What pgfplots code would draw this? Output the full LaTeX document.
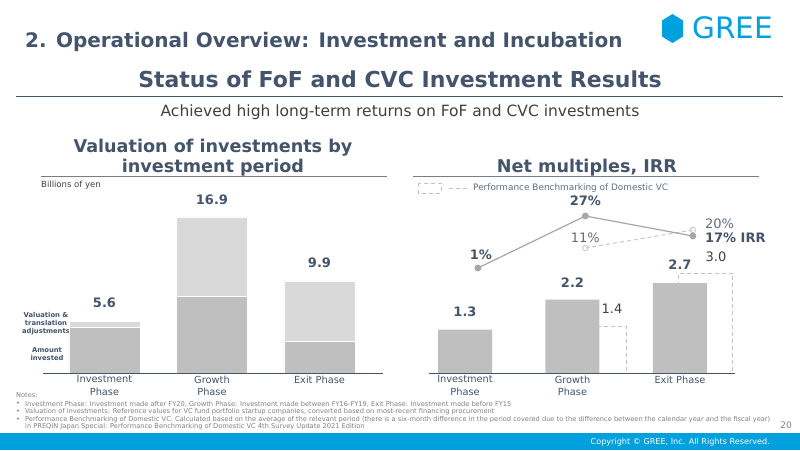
\documentclass[border=0pt]{standalone}
\usepackage{pgfplots}
\pgfplotsset{compat=1.18}
\usepackage{fontspec}
\setmainfont{DejaVu Sans}

\definecolor{slate}{HTML}{44546A}
\definecolor{textgray}{HTML}{404040}
\definecolor{notegray}{HTML}{808080}
\definecolor{bardark}{HTML}{BFBFBF}
\definecolor{barlight}{HTML}{D9D9D9}
\definecolor{irrgray}{HTML}{A6A6A6}
\definecolor{benchgray}{HTML}{C4C4C4}
\definecolor{greeblue}{HTML}{00A0DE}

\newcommand\fs[1]{\fontsize{#1}{#1}\selectfont}

\tikzset{
  vlabel/.style={font=\fs{13}\bfseries, text=slate, inner sep=0},
  blabel/.style={font=\fs{13}, text=textgray, inner sep=0},
}

\begin{document}
\begin{tikzpicture}[x=1pt,y=1pt]
\path[use as bounding box] (0,0) rectangle (800,450);
\fill[white] (0,0) rectangle (800,450);
\fill[greeblue] (0,0) rectangle (800,17);

% ---------- page furniture, in top-down coordinates ----------
\begin{scope}[y=-1pt, yshift=450pt]
  \node[anchor=base west, inner sep=0, text=slate, font=\fs{20}\bfseries]
    at (25,48) {2. Operational Overview: Investment and Incubation};
  % logo
  \fill[greeblue] (672.5,14) -- (683,20.5) -- (683,36.5) -- (672.5,43) -- (662,36.5) -- (662,20.5) -- cycle;
  \node[anchor=base west, inner sep=0, text=greeblue, font=\fs{29.5}]
    at (692,39) {GREE};

  \node[anchor=base, inner sep=0, text=slate, font=\fs{22}\bfseries]
    at (400,88) {Status of FoF and CVC Investment Results};
  \draw[slate, line width=1pt] (16,97) -- (783,97);
  \node[anchor=base, inner sep=0, text=textgray, font=\fs{15.5}]
    at (400,117) {Achieved high long-term returns on FoF and CVC investments};

  % panel titles
  \node[align=center, inner sep=0, text=slate, font=\fontsize{17.6}{20.5}\selectfont\bfseries]
    at (213,157.5) {Valuation of investments by\\investment period};
  \draw[slate!75, line width=1pt] (41,177) -- (387,177);
  \node[inner sep=0, text=slate, font=\fs{17.6}\bfseries]
    at (587,167.5) {Net multiples, IRR};
  \draw[slate!75, line width=1pt] (413,177) -- (759,177);

  \node[anchor=west, inner sep=0, text=textgray, font=\fs{8.5}]
    at (41,185) {Billions of yen};

  % stack captions
  \node[align=center, inner sep=0, text=slate, font=\fontsize{6.8}{8}\selectfont\bfseries]
    at (46,324) {Valuation \&\\translation\\adjustments};
  \node[align=center, inner sep=0, text=slate, font=\fontsize{6.8}{8}\selectfont\bfseries]
    at (47,354) {Amount\\invested};

  % benchmark key
  \draw[benchgray, line width=0.9pt, dash pattern=on 4pt off 3pt] (418,183) rectangle (441,193);
  \draw[benchgray, line width=0.9pt, dash pattern=on 4pt off 3pt] (449,188) -- (469,188);
  \node[anchor=west, inner sep=0, text=slate!85, font=\fs{8.9}]
    at (473,188) {Performance Benchmarking of Domestic VC};

  % notes
  \begin{scope}[every node/.style={anchor=west, inner sep=0, text=notegray, font=\fs{6.65}}]
    \node at (16,395.5) {Notes:};
    \node at (16,404) {•}; \node at (25,404) {Investment Phase: Investment made after FY20, Growth Phase: Investment made between FY16-FY19, Exit Phase: Investment made before FY15};
    \node at (16,411.5) {•}; \node at (25,411.5) {Valuation of investments: Reference values for VC fund portfolio startup companies, converted based on most-recent financing procurement};
    \node at (16,419.5) {•}; \node at (25,419.5) {Performance Benchmarking of Domestic VC: Calculated based on the average of the relevant period (there is a six-month difference in the period covered due to the difference between the calendar year and the fiscal year)};
    \node at (25,427) {in PREQIN Japan Special: Performance Benchmarking of Domestic VC 4th Survey Update 2021 Edition};
  \end{scope}
  \node[inner sep=0, text=notegray, font=\fs{9}] at (786,425) {20};
  \node[anchor=east, inner sep=0, text=white, font=\fs{8.1}]
    at (770,442) {Copyright © GREE, Inc. All Rights Reserved.};
\end{scope}

\pgfplotsset{
  panel/.style={
    scale only axis, anchor=south west,
    axis x line*=bottom, axis y line=none,
    axis line style={slate, line width=1pt},
    axis on top, clip=false,
    xtick={0,1,2}, ytick=\empty, major tick length=0pt,
    xticklabels={{Investment\\Phase},{Growth\\Phase},{Exit Phase}},
    xticklabel style={align=center, text=slate, font=\fontsize{9.8}{12.5}\selectfont,
      anchor=north, inner sep=0pt, yshift=-2.5pt},
  },
}

% ---------- left panel: valuation by investment period ----------
\begin{axis}[panel,
  at={(43pt,77pt)}, width=340pt, height=190pt,
  xmin=-0.572, xmax=2.591, ymin=0, ymax=20.58,
  ybar stacked, bar width=71pt]
  % amount invested
  \addplot[fill=bardark, draw=white, line width=0.6pt] coordinates {(0,4.9) (1,8.3) (2,3.4)};
  % valuation & translation adjustments
  \addplot[fill=barlight, draw=white, line width=0.6pt] coordinates {(0,0.7) (1,8.6) (2,6.5)};
  \node[vlabel, yshift=19pt] at (axis cs:0,5.6) {5.6};
  \node[vlabel, yshift=17pt] at (axis cs:1,16.9) {16.9};
  \node[vlabel, yshift=19pt] at (axis cs:2,9.9) {9.9};
\end{axis}

% ---------- right panel: net multiples ----------
\begin{axis}[panel,
  at={(429pt,77pt)}, width=306pt, height=200pt,
  xmin=-0.335, xmax=2.512, ymin=0, ymax=6.006]
  % domestic VC benchmark multiples
  \addplot[ybar, bar width=54pt, bar shift=0pt, draw=benchgray, fill=none,
    line width=0.9pt, dash pattern=on 4pt off 3pt] coordinates {(1.25,1.4) (2.24,3.0)};
  % net multiples
  \addplot[ybar, bar width=54pt, bar shift=0pt, fill=bardark, draw=none]
    coordinates {(0,1.3) (1,2.2) (2,2.7)};
  \node[vlabel, yshift=18pt] at (axis cs:0,1.3) {1.3};
  \node[vlabel, yshift=17pt] at (axis cs:1,2.2) {2.2};
  \node[vlabel, yshift=18pt] at (axis cs:2,2.7) {2.7};
  \node[blabel, yshift=18pt] at (axis cs:1.367,1.4) {1.4};
  \node[blabel, yshift=16pt] at (axis cs:2.335,3.0) {3.0};
\end{axis}

% ---------- right panel: IRR ----------
\begin{axis}[scale only axis, anchor=south west, hide axis, clip=false,
  at={(429pt,77pt)}, width=306pt, height=200pt,
  xmin=-0.335, xmax=2.512, ymin=-51.5, ymax=48.5]
  % domestic VC benchmark IRR
  \addplot[benchgray, line width=0.9pt, dash pattern=on 4pt off 3pt,
    mark=o, mark size=2.8pt, mark options={solid, fill=white, line width=0.8pt}]
    coordinates {(1.12,11) (2.12,20)};
  % IRR
  \addplot[irrgray, line width=1.2pt, mark=*, mark size=2.8pt,
    mark options={fill=irrgray, draw=irrgray}]
    coordinates {(0.12,1) (1.12,27) (2.12,17)};
  \node[vlabel, xshift=3pt, yshift=13pt] at (axis cs:0.12,1) {1\%};
  \node[vlabel, yshift=15pt] at (axis cs:1.12,27) {27\%};
  \node[blabel, text=slate!85, yshift=10pt] at (axis cs:1.12,11) {11\%};
  \node[blabel, text=slate!85, anchor=west, xshift=12pt, yshift=6pt] at (axis cs:2.12,20) {20\%};
  \node[vlabel, anchor=west, xshift=12pt, yshift=-2pt] at (axis cs:2.12,17) {17\% IRR};
\end{axis}
\end{tikzpicture}
\end{document}
